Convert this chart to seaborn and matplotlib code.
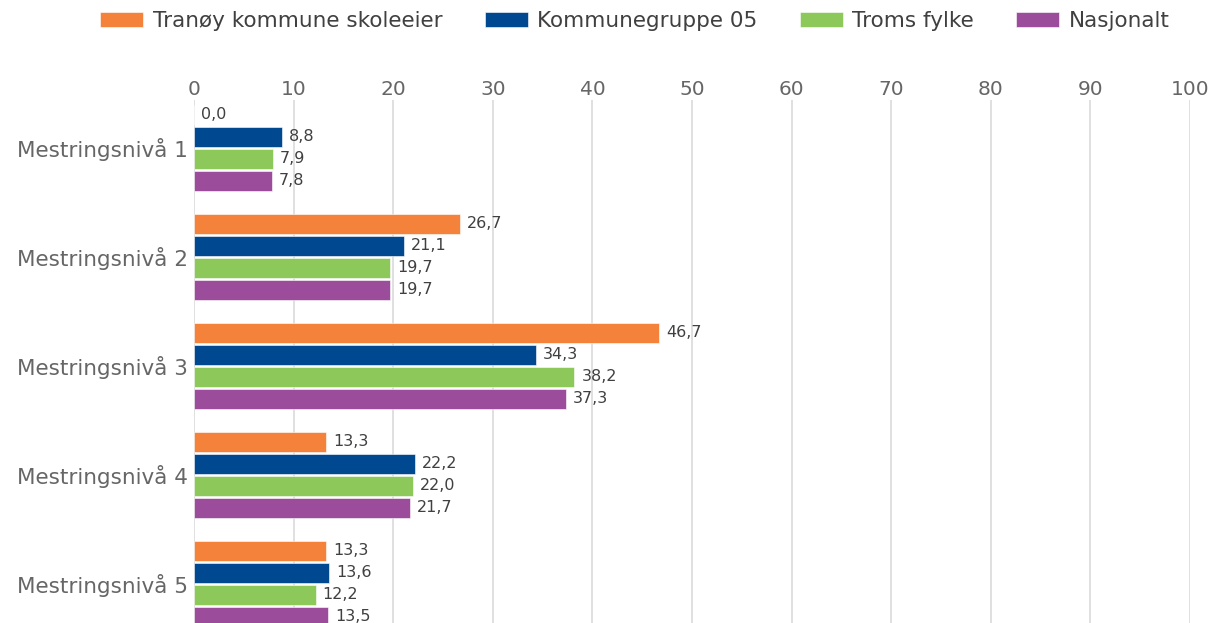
import matplotlib
matplotlib.use("Agg")
import matplotlib.pyplot as plt
import seaborn as sns
import pandas as pd

categories = ["Mestringsnivå 1", "Mestringsnivå 2", "Mestringsnivå 3", "Mestringsnivå 4", "Mestringsnivå 5"]
series_names = ["Tranøy kommune skoleeier", "Kommunegruppe 05", "Troms fylke", "Nasjonalt"]
tranoy = [0.0, 26.7, 46.7, 13.3, 13.3]
kommunegruppe = [8.8, 21.1, 34.3, 22.2, 13.6]
troms = [7.9, 19.7, 38.2, 22.0, 12.2]
nasjonalt = [7.8, 19.7, 37.3, 21.7, 13.5]
x_ticks = [0, 10, 20, 30, 40, 50, 60, 70, 80, 90, 100]
colors = ["#F5823A", "#004990", "#8CC85A", "#9B4D9B"]

rows = []
for name, vals in zip(series_names, [tranoy, kommunegruppe, troms, nasjonalt]):
    for c, v in zip(categories, vals):
        rows.append({"Nivå": c, "Verdi": v, "Serie": name})
df = pd.DataFrame(rows)

sns.set_theme(style="white")
plt.rcParams["font.family"] = ["DejaVu Sans"]

W, H = 1213, 623
fig = plt.figure(figsize=(W / 100, H / 100), dpi=100)
ax_left, ax_right = 194 / W, 1190 / W
ax_top, ax_bottom = 100, 623
ax = fig.add_axes([ax_left, 1 - ax_bottom / H, ax_right - ax_left, (ax_bottom - ax_top) / H])

sns.barplot(data=df, y="Nivå", x="Verdi", hue="Serie", order=categories,
            hue_order=series_names, palette=colors, orient="h",
            width=0.807, gap=0.09, ax=ax, legend=True,
            edgecolor="white", linewidth=0.4, saturation=1)

ax.set_xlim(0, 100)
ax.set_ylim(4.358, -0.44)
ax.xaxis.tick_top()
ax.set_xticks(x_ticks)
ax.tick_params(axis="x", length=0, pad=1, labelsize=14.5, labelcolor="#666666")
ax.tick_params(axis="y", length=0, pad=4.5, labelsize=15.5, labelcolor="#666666")
ax.set_xlabel("")
ax.set_ylabel("")
ax.grid(axis="x", color="#DADADA", linewidth=1.2)
ax.set_axisbelow(True)
for s in ax.spines.values():
    s.set_visible(False)

for cont in ax.containers:
    labels = [f"{w:.1f}".replace(".", ",") for w in cont.datavalues]
    ax.bar_label(cont, labels=labels, padding=5, fontsize=11.5, color="#404040")

handles, lbls = ax.get_legend_handles_labels()
ax.get_legend().remove()
fig.legend(handles, lbls, loc="center", bbox_to_anchor=(0.5235, 1 - 21 / H), ncol=4,
           frameon=False, fontsize=15.5, handlelength=2.0, handleheight=0.68,
           columnspacing=1.95, handletextpad=0.45, labelcolor="#404040")

fig.savefig("out.png", dpi=100)
